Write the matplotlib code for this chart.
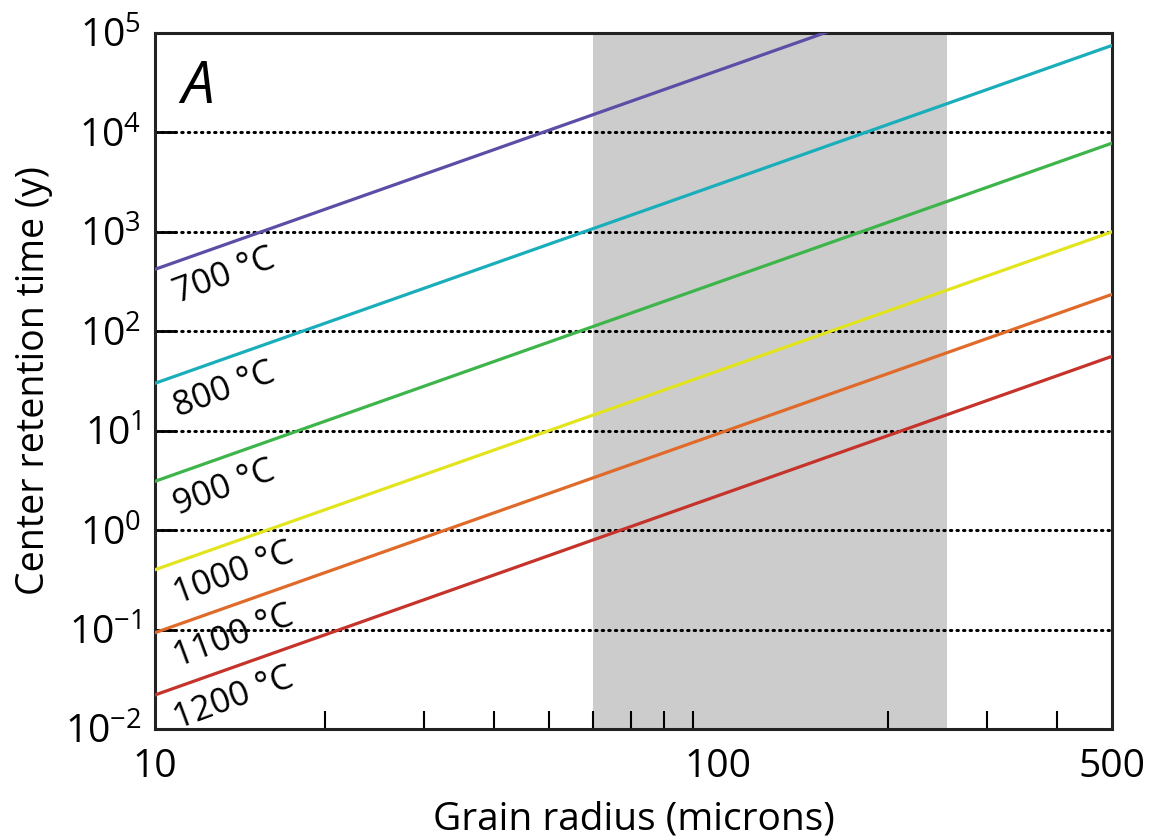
import math
import matplotlib
matplotlib.use("Agg")
import matplotlib.pyplot as plt
import matplotlib.ticker as mticker

plt.rcParams['font.family'] = ['Open Sans', 'DejaVu Sans']
plt.rcParams['mathtext.fontset'] = 'custom'
plt.rcParams['mathtext.rm'] = 'Open Sans'

# grain radius (microns) at the two ends of each line
radius = [10, 500]
# center retention time (y) at r = 10 and r = 500
t_700 = [420, 1.05e6]
t_800 = [30, 75000]
t_900 = [3.1, 7800]
t_1000 = [0.40, 1000]
t_1100 = [0.093, 235]
t_1200 = [0.022, 56]

temps = ['700 °C', '800 °C', '900 °C', '1000 °C', '1100 °C', '1200 °C']
series = [t_700, t_800, t_900, t_1000, t_1100, t_1200]
colors = ['#5b4ea6', '#1aaebb', '#3db54a', '#e2e41e', '#e06a2a', '#c5332b']

band = [60, 255]  # shaded radius range
grid_y = [1e-1, 1e0, 1e1, 1e2, 1e3, 1e4]

fig = plt.figure(figsize=(11.53, 8.4), dpi=100)
ax = fig.add_axes([155/1153, 1 - 729/840, (1112-155)/1153, (729-33)/840])

ax.axvspan(band[0], band[1], color='#cccccc', lw=0, zorder=0)
for g in grid_y:
    ax.axhline(g, color='black', lw=2.2, ls=(0, (0.45, 1.7)),
               dash_capstyle='round', zorder=1)

for i in range(len(series)):
    ax.plot(radius, series[i], color=colors[i], lw=2.3, zorder=3)
    # label sits just under the line near the left edge
    x0 = 10.6
    y0 = series[i][0] * (x0 / radius[0]) ** 2 / 1.4
    ax.text(x0, y0, temps[i], rotation=20.3, rotation_mode='anchor',
            ha='left', va='top', fontsize=25, zorder=4)

ax.set_xscale('log')
ax.set_yscale('log')
ax.set_xlim(10, 500)
ax.set_ylim(1e-2, 1e5)

ax.xaxis.set_major_locator(mticker.FixedLocator([10, 100, 500]))
ax.xaxis.set_major_formatter(mticker.FixedFormatter(['10', '100', '500']))
ax.xaxis.set_minor_locator(mticker.FixedLocator([20, 30, 40, 50, 60, 70, 80, 90, 100, 200, 300, 400]))
ax.xaxis.set_minor_formatter(mticker.NullFormatter())
ax.tick_params(axis='x', which='major', length=0, labelsize=28, pad=14)
ax.tick_params(axis='x', which='minor', direction='in', length=13, width=1.5)

ax.yaxis.set_major_locator(mticker.FixedLocator([1e-2, 1e-1, 1, 10, 100, 1e3, 1e4, 1e5]))
ax.yaxis.set_major_formatter(mticker.FuncFormatter(
    lambda v, p: r'$\mathregular{10^{%d}}$' % round(math.log10(v))))
ax.yaxis.set_minor_locator(mticker.NullLocator())
ax.tick_params(axis='y', which='major', direction='in', length=15, width=2,
               labelsize=28, pad=10)

for s in ax.spines.values():
    s.set_linewidth(2.2)
    s.set_color('#222222')

ax.set_xlabel('Grain radius (microns)', fontsize=28, labelpad=10)
ax.set_ylabel('Center retention time (y)', fontsize=27, labelpad=8)

ax.text(0.027, 0.9, 'A', transform=ax.transAxes, fontsize=42, style='italic')

fig.savefig('out.png', dpi=100)
